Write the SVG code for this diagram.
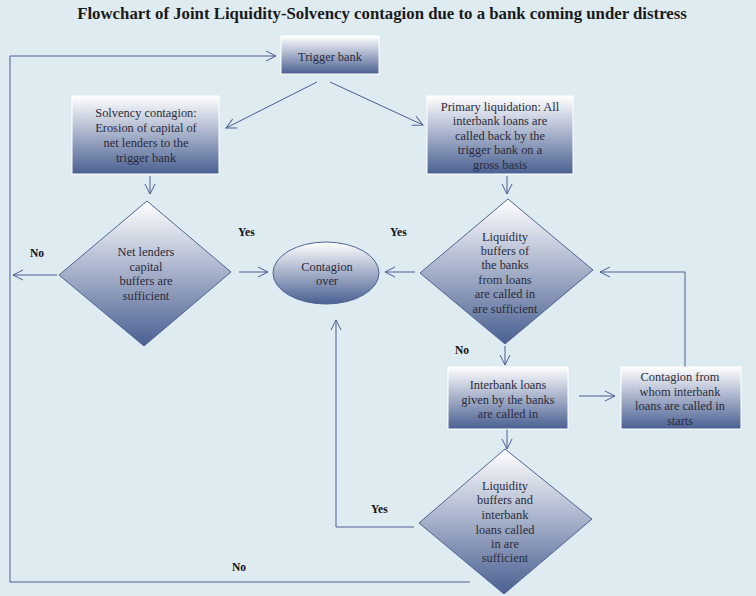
<svg xmlns="http://www.w3.org/2000/svg" width="756" height="596" viewBox="0 0 756 596">
<defs>
<linearGradient id="g" x1="0" y1="0" x2="0" y2="1">
<stop offset="0" stop-color="#ffffff"/>
<stop offset="1" stop-color="#4a6092"/>
</linearGradient>
<marker id="a" markerWidth="12" markerHeight="12" refX="11" refY="6" orient="auto" markerUnits="userSpaceOnUse">
<path d="M1,1 L11,6 L1,11" fill="none" stroke="#4a5e94" stroke-width="1"/>
</marker>
<style>
.n{fill:url(#g);stroke:#4f6496;stroke-width:1}
.b{fill:url(#g);stroke:#ffffff;stroke-width:1}
.t{font-family:"Liberation Serif",serif;font-size:12.4px;fill:#2b2b3b;text-anchor:middle}
.l{font-family:"Liberation Serif",serif;font-size:11.5px;font-weight:bold;fill:#111}
.c{fill:none;stroke:#4a5e94;stroke-width:1}
</style>
</defs>
<rect width="756" height="596" fill="#deebf0"/>
<text x="382" y="19" font-family="Liberation Serif,serif" font-size="16.8" font-weight="bold" fill="#1a1a1a" text-anchor="middle">Flowchart of Joint Liquidity-Solvency contagion due to a bank coming under distress</text>

<g id="connectors">
<path class="c" d="M317,82 L226,128" marker-end="url(#a)"/>
<path class="c" d="M330,82 L423,125" marker-end="url(#a)"/>
<path class="c" d="M150,176 L150,194" marker-end="url(#a)"/>
<path class="c" d="M507,176 L507,194" marker-end="url(#a)"/>
<path class="c" d="M57,275 L13,275" marker-end="url(#a)"/>
<path class="c" d="M239,272 L268,272" marker-end="url(#a)"/>
<path class="c" d="M415,272 L385,272" marker-end="url(#a)"/>
<path class="c" d="M505,346 L505,365" marker-end="url(#a)"/>
<path class="c" d="M579,396 L615,396" marker-end="url(#a)"/>
<path class="c" d="M685,367 L685,272 L600,272" marker-end="url(#a)"/>
<path class="c" d="M507,429 L507,449" marker-end="url(#a)"/>
<path class="c" d="M414,527 L336,527 L336,320" marker-end="url(#a)"/>
<path class="c" d="M470,582 L10,582 L10,56 L276,56" marker-end="url(#a)"/>
</g>

<g id="trigger">
<rect class="b" x="281" y="36" width="98" height="38"/>
<text class="t" x="330" y="61">Trigger bank</text>
</g>

<g id="solvency">
<rect class="b" x="72" y="96" width="147" height="78"/>
<text class="t" x="146" y="117">Solvency contagion:</text>
<text class="t" x="146" y="132">Erosion of capital of</text>
<text class="t" x="146" y="147">net lenders to the</text>
<text class="t" x="146" y="162">trigger bank</text>
</g>

<g id="primary">
<rect class="b" x="427" y="96" width="146" height="78"/>
<text class="t" x="500" y="111">Primary liquidation: All</text>
<text class="t" x="500" y="125">interbank loans are</text>
<text class="t" x="500" y="140">called back by the</text>
<text class="t" x="500" y="154">trigger bank on a</text>
<text class="t" x="500" y="169">gross basis</text>
</g>

<g id="netlenders">
<polygon class="n" points="147,201 231,272 144,346 59,275"/>
<text class="t" x="146" y="256">Net lenders</text>
<text class="t" x="146" y="271">capital</text>
<text class="t" x="146" y="285">buffers are</text>
<text class="t" x="146" y="300">sufficient</text>
</g>

<g id="over">
<ellipse class="n" cx="326" cy="273" rx="53" ry="31"/>
<text class="t" x="327" y="271">Contagion</text>
<text class="t" x="327" y="285">over</text>
</g>

<g id="liquidity1">
<polygon class="n" points="508,199 593,270 505,344 420,273"/>
<text class="t" x="505" y="241">Liquidity</text>
<text class="t" x="505" y="255">buffers of</text>
<text class="t" x="505" y="269">the banks</text>
<text class="t" x="505" y="284">from loans</text>
<text class="t" x="505" y="298">are called in</text>
<text class="t" x="505" y="313">are sufficient</text>
</g>

<g id="interbank">
<rect class="b" x="448" y="367" width="120" height="62"/>
<text class="t" x="508" y="389">Interbank loans</text>
<text class="t" x="508" y="404">given by the banks</text>
<text class="t" x="508" y="418">are called in</text>
</g>

<g id="contagionfrom">
<rect class="b" x="621" y="367" width="120" height="62"/>
<text class="t" x="680" y="381">Contagion from</text>
<text class="t" x="680" y="396">whom interbank</text>
<text class="t" x="680" y="410">loans are called in</text>
<text class="t" x="680" y="425">starts</text>
</g>

<g id="liquidity2">
<polygon class="n" points="505,449 592,519 504,594 419,523"/>
<text class="t" x="505" y="490">Liquidity</text>
<text class="t" x="505" y="504">buffers and</text>
<text class="t" x="505" y="519">interbank</text>
<text class="t" x="505" y="534">loans called</text>
<text class="t" x="505" y="548">in are</text>
<text class="t" x="505" y="562">sufficient</text>
</g>

<g id="labels">
<text class="l" x="30" y="257">No</text>
<text class="l" x="238" y="236">Yes</text>
<text class="l" x="390" y="236">Yes</text>
<text class="l" x="455" y="354">No</text>
<text class="l" x="371" y="513">Yes</text>
<text class="l" x="232" y="571">No</text>
</g>
</svg>
